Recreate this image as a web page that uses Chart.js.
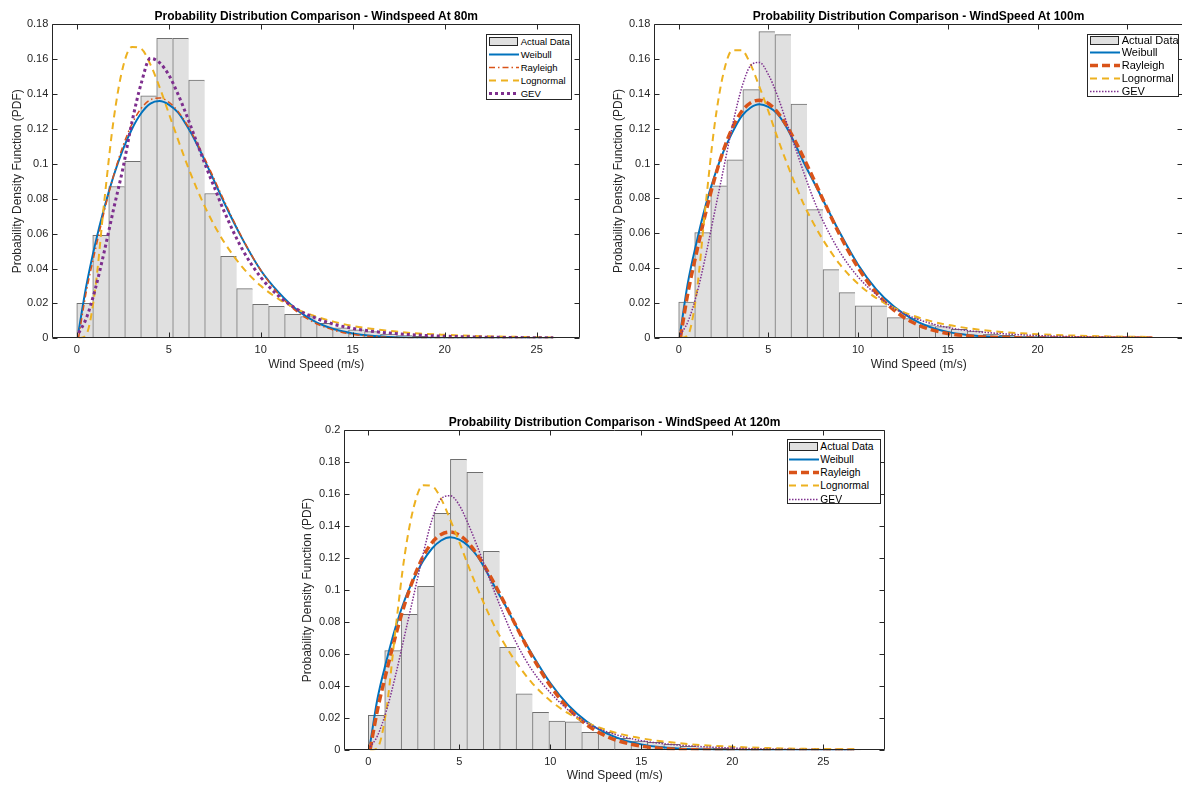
<!DOCTYPE html>
<html>
<head>
<meta charset="utf-8">
<script src="https://cdn.jsdelivr.net/npm/chart.js@4.4.0/dist/chart.umd.min.js"></script>
<style>
  body { margin: 0; width: 1182px; height: 785px; overflow: hidden; background: #fff; position: relative;
         font-family: "Liberation Sans", Arial, sans-serif; }
  .panel { position: absolute; }
  .title { position: absolute; font-weight: bold; font-size: 12px; white-space: nowrap; color: #000;
           transform: translate(-50%, -50%); }
  .legend { position: absolute; background: #fff; border: 1px solid #262626; box-sizing: border-box; color: #000; }
  .legend .row { position: absolute; left: 0; right: 0; height: 13px; }
  .legend .row span { position: absolute; top: 0; line-height: 13px; white-space: nowrap; }
  .legend .row svg { position: absolute; top: 0; }
</style>
</head>
<body>
<script>
// ticks
const xTicks = [0, 5, 10, 15, 20, 25];
const yTicks18 = [0, 0.02, 0.04, 0.06, 0.08, 0.1, 0.12, 0.14, 0.16, 0.18];
const yTicks20 = [0, 0.02, 0.04, 0.06, 0.08, 0.1, 0.12, 0.14, 0.16, 0.18, 0.2];
const seriesNames = ["Actual Data", "Weibull", "Rayleigh", "Lognormal", "GEV"];
const titles = [
  "Probability Distribution Comparison - Windspeed At 80m",
  "Probability Distribution Comparison - WindSpeed At 100m",
  "Probability Distribution Comparison - WindSpeed At 120m"
];

// 80m histogram (bin centres, density)
const bins80 = [0.435, 1.304, 2.173, 3.042, 3.911, 4.780, 5.649, 6.518, 7.387, 8.256, 9.125, 9.994, 10.863, 11.732, 12.601,
  13.470, 14.339, 15.208, 16.077, 16.946, 17.815, 18.684, 19.553, 20.422, 21.291, 22.160, 23.029, 23.898, 24.767, 25.636];
const hist80 = [0.020, 0.059, 0.087, 0.1015, 0.139, 0.172, 0.172, 0.148, 0.083, 0.047, 0.0285, 0.0195, 0.0183, 0.0138, 0.0125,
  0.0086, 0.0060, 0.0048, 0.0038, 0.0024, 0.0016, 0.0011, 0.0008, 0.0006, 0.0004, 0.0003, 0.0002, 0.0002, 0.0001, 0.0001];

// 100m histogram
const bins100 = [0.447, 1.341, 2.235, 3.129, 4.023, 4.917, 5.811, 6.705, 7.599, 8.493, 9.387, 10.281, 11.175, 12.069, 12.963,
  13.857, 14.751, 15.645, 16.539, 17.433, 18.327, 19.221, 20.115, 21.009, 21.903, 22.797, 23.691, 24.585, 25.479, 26.373];
const hist100 = [0.0206, 0.0604, 0.0873, 0.1022, 0.1424, 0.1756, 0.1739, 0.1341, 0.0736, 0.0392, 0.026, 0.0185, 0.0185, 0.0117, 0.0112,
  0.0075, 0.0065, 0.0050, 0.0040, 0.0022, 0.0015, 0.0011, 0.0008, 0.0006, 0.0004, 0.0003, 0.0002, 0.0002, 0.0001, 0.0001];

// 120m histogram
const bins120 = [0.451, 1.353, 2.255, 3.157, 4.059, 4.961, 5.863, 6.765, 7.667, 8.569, 9.471, 10.373, 11.275, 12.177, 13.079,
  13.981, 14.883, 15.785, 16.687, 17.589, 18.491, 19.393, 20.295, 21.197, 22.099, 23.001, 23.903, 24.805, 25.707, 26.609];
const hist120 = [0.0219, 0.0622, 0.0849, 0.1024, 0.148, 0.1817, 0.1736, 0.1242, 0.0643, 0.0352, 0.0237, 0.0183, 0.0177, 0.0112, 0.0112,
  0.0075, 0.0058, 0.0050, 0.0037, 0.0025, 0.0016, 0.0012, 0.0008, 0.0006, 0.0004, 0.0003, 0.0002, 0.0002, 0.0001, 0.0001];

// fitted curves, sampled along wind speed
const speed80 = [0.1, 0.5, 1, 1.5, 2, 2.5, 3, 3.5, 4, 4.5, 5, 5.5, 6, 6.5, 7, 7.5, 8, 9, 10, 11, 12, 13, 14, 15, 16, 17, 18, 20, 22, 24, 25.9];
const weibull80 = [0.004, 0.029, 0.054, 0.075, 0.093, 0.108, 0.120, 0.129, 0.1345, 0.136, 0.134, 0.1295, 0.1215, 0.112, 0.101, 0.0895,
  0.078, 0.057, 0.039, 0.026, 0.016, 0.0093, 0.0052, 0.0028, 0.0014, 0.0007, 0.0003, 0.0001, 0, 0, 0];
const rayleigh80 = [0.0005, 0.0257, 0.0503, 0.0731, 0.0932, 0.1099, 0.1228, 0.1318, 0.1367, 0.1378, 0.1354, 0.1301, 0.1223, 0.1127, 0.102,
  0.0906, 0.0791, 0.0574, 0.039, 0.025, 0.015, 0.0085, 0.0046, 0.0023, 0.0011, 0.0005, 0.0002, 0, 0, 0, 0];
const lognormal80 = [0, 0.0018, 0.028, 0.079, 0.125, 0.155, 0.167, 0.166, 0.157, 0.144, 0.129, 0.114, 0.0995, 0.0864, 0.0746, 0.0643,
  0.0553, 0.0408, 0.0301, 0.0223, 0.0166, 0.0125, 0.0094, 0.0071, 0.0055, 0.0043, 0.0032, 0.002, 0.0012, 0.0008, 0.0005];
const gev80 = [0.003, 0.011, 0.028, 0.050, 0.074, 0.097, 0.124, 0.146, 0.1605, 0.158, 0.151, 0.140, 0.127, 0.113, 0.099, 0.086,
  0.073, 0.051, 0.035, 0.024, 0.0165, 0.0115, 0.008, 0.0057, 0.0041, 0.003, 0.0022, 0.0012, 0.0007, 0.0004, 0.0003];

const speed100 = [0.1, 0.5, 1, 1.5, 2, 2.5, 3, 3.5, 4, 4.5, 5, 5.5, 6, 6.5, 7, 7.5, 8, 9, 10, 11, 12, 13, 14, 15, 16, 17, 18, 20, 22, 24, 26.4];
const weibull100 = [0.004, 0.031, 0.055, 0.076, 0.093, 0.107, 0.118, 0.127, 0.132, 0.134, 0.1325, 0.1285, 0.121, 0.111, 0.100, 0.090,
  0.080, 0.060, 0.042, 0.028, 0.018, 0.011, 0.0063, 0.0035, 0.0019, 0.001, 0.0005, 0.0001, 0, 0, 0];
const rayleigh100 = [0.0005, 0.0251, 0.0492, 0.0716, 0.0913, 0.1078, 0.1207, 0.1297, 0.1348, 0.1363, 0.1344, 0.1295, 0.122, 0.1128, 0.1025,
  0.0916, 0.0803, 0.0587, 0.0403, 0.0261, 0.016, 0.0092, 0.005, 0.0026, 0.0013, 0.0006, 0.0003, 0, 0, 0, 0];
const lognormal100 = [0, 0.0015, 0.026, 0.076, 0.122, 0.152, 0.165, 0.165, 0.157, 0.144, 0.130, 0.115, 0.101, 0.088, 0.076, 0.066,
  0.057, 0.042, 0.031, 0.023, 0.0172, 0.013, 0.0098, 0.0075, 0.0058, 0.0045, 0.0035, 0.0022, 0.0014, 0.0009, 0.0006];
const gev100 = [0.002, 0.009, 0.025, 0.047, 0.072, 0.097, 0.122, 0.143, 0.156, 0.158, 0.151, 0.139, 0.124, 0.109, 0.094, 0.080,
  0.068, 0.049, 0.035, 0.025, 0.017, 0.012, 0.0085, 0.006, 0.0044, 0.0033, 0.0025, 0.0014, 0.0008, 0.0005, 0.0003];

const speed120 = [0.1, 0.5, 1, 1.5, 2, 2.5, 3, 3.5, 4, 4.5, 5, 5.5, 6, 6.5, 7, 7.5, 8, 9, 10, 11, 12, 13, 14, 15, 16, 17, 18, 20, 22, 24, 26.7];
const weibull120 = [0.004, 0.032, 0.056, 0.077, 0.094, 0.107, 0.118, 0.126, 0.131, 0.133, 0.1315, 0.1275, 0.121, 0.1115, 0.101, 0.091,
  0.080, 0.060, 0.042, 0.028, 0.018, 0.011, 0.0065, 0.0037, 0.002, 0.0011, 0.0006, 0.0002, 0, 0, 0];
const rayleigh120 = [0.0005, 0.0251, 0.0492, 0.0716, 0.0913, 0.1078, 0.1207, 0.1297, 0.1348, 0.1363, 0.1344, 0.1295, 0.122, 0.1128, 0.1025,
  0.0916, 0.0803, 0.0587, 0.0403, 0.0261, 0.016, 0.0092, 0.005, 0.0026, 0.0013, 0.0006, 0.0003, 0, 0, 0, 0];
const lognormal120 = [0, 0.0015, 0.026, 0.076, 0.122, 0.152, 0.1655, 0.165, 0.157, 0.144, 0.130, 0.115, 0.101, 0.088, 0.076, 0.066,
  0.057, 0.042, 0.031, 0.023, 0.0172, 0.013, 0.0098, 0.0075, 0.0058, 0.0045, 0.0035, 0.0022, 0.0014, 0.0009, 0.0006];
const gev120 = [0.002, 0.009, 0.025, 0.047, 0.072, 0.097, 0.122, 0.144, 0.157, 0.159, 0.153, 0.141, 0.127, 0.112, 0.097, 0.083,
  0.070, 0.050, 0.036, 0.025, 0.017, 0.012, 0.0085, 0.006, 0.0044, 0.0033, 0.0025, 0.0014, 0.0008, 0.0005, 0.0003];

const colors = { bar: "#e0e0e0", barEdge: "#707070", weibull: "#0072BD", rayleigh: "#D95319", lognormal: "#EDB120", gev: "#7E2F8E" };

// box with inward ticks on all four sides, drawn over the data like MATLAB does
const boxPlugin = {
  id: "box",
  afterDatasetsDraw(chart) {
    const { ctx, chartArea: a, scales: { x, y } } = chart;
    const L = Math.round(a.left) + 0.5, R = Math.round(a.right) - 0.5;
    const T = Math.round(a.top) + 0.5, B = Math.round(a.bottom) - 0.5;
    ctx.save();
    ctx.strokeStyle = "#262626";
    ctx.lineWidth = 1;
    ctx.beginPath();
    ctx.rect(L, T, R - L, B - T);
    x.ticks.forEach(t => {
      const px = Math.round(x.getPixelForValue(t.value)) + 0.5;
      ctx.moveTo(px, B); ctx.lineTo(px, B - 5);
      ctx.moveTo(px, T); ctx.lineTo(px, T + 5);
    });
    y.ticks.forEach(t => {
      const py = Math.round(y.getPixelForValue(t.value)) + 0.5;
      ctx.moveTo(L, py); ctx.lineTo(L + 5, py);
      ctx.moveTo(R, py); ctx.lineTo(R - 5, py);
    });
    ctx.stroke();
    ctx.restore();
  }
};

function curve(xs, ys, color, width, dash, order) {
  return {
    type: "line",
    data: xs.map((v, i) => ({ x: v, y: ys[i] })),
    borderColor: color, borderWidth: width, borderDash: dash,
    pointRadius: 0, fill: false, cubicInterpolationMode: "monotone", order: order
  };
}

function legendSample(i, st) {
  if (i === 0) {
    return `<svg width="32" height="13" style="left:${st.sx}px"><rect x="1.5" y="2.5" width="28" height="8" fill="${colors.bar}" stroke="#262626"/></svg>`;
  }
  const s = st.styles[i - 1];
  return `<svg width="32" height="13" style="left:${st.sx}px"><line x1="1" y1="6.5" x2="31" y2="6.5" stroke="${s.color}" stroke-width="${s.width}" stroke-dasharray="${s.dash.join(" ")}"/></svg>`;
}

function makePanel(p) {
  const div = document.createElement("div");
  div.className = "panel";
  div.style.left = p.left + "px";
  div.style.top = p.top + "px";
  const canvas = document.createElement("canvas");
  canvas.width = p.w; canvas.height = p.h;
  canvas.style.width = p.w + "px"; canvas.style.height = p.h + "px";
  div.appendChild(canvas);
  document.body.appendChild(div);

  const st = p.styles;
  new Chart(canvas, {
    type: "bar",
    data: {
      datasets: [
        {
          type: "bar", label: seriesNames[0],
          data: p.bins.map((b, i) => ({ x: b, y: p.hist[i] })),
          backgroundColor: colors.bar, borderColor: colors.barEdge,
          borderWidth: { top: 1, left: 1, right: 0, bottom: 0 }, borderSkipped: false,
          barPercentage: 1, categoryPercentage: 1, order: 5
        },
        curve(p.speed, p.weibull, st[0].color, st[0].width, st[0].dash, 4),
        curve(p.speed, p.rayleigh, st[1].color, st[1].width, st[1].dash, 3),
        curve(p.speed, p.lognormal, st[2].color, st[2].width, st[2].dash, 2),
        curve(p.speed, p.gev, st[3].color, st[3].width, st[3].dash, 1)
      ]
    },
    options: {
      responsive: false, animation: false, maintainAspectRatio: false,
      layout: { padding: { top: p.padTop, right: p.padRight, left: 0, bottom: 0 } },
      plugins: { legend: { display: false }, tooltip: { enabled: false }, title: { display: false } },
      scales: {
        x: {
          type: "linear", min: p.xMin, max: p.xMax, offset: false,
          grid: { display: false, drawTicks: false, offset: false }, border: { display: false },
          afterBuildTicks: s => { s.ticks = xTicks.map(v => ({ value: v })); },
          afterFit: s => { s.height = p.xAxisH; },
          ticks: { padding: 5, color: "#262626", font: { size: 11 }, autoSkip: false, maxRotation: 0 },
          title: { display: true, text: "Wind Speed (m/s)", color: "#262626", font: { size: 12 },
                   padding: { top: 0, bottom: p.xTitlePad } }
        },
        y: {
          type: "linear", min: 0, max: p.yMax,
          grid: { display: false, drawTicks: false }, border: { display: false },
          afterBuildTicks: s => { s.ticks = p.yTicks.map(v => ({ value: v })); },
          afterFit: s => { s.width = p.yAxisW; },
          ticks: { padding: 4, color: "#262626", font: { size: 11 }, callback: v => String(+v.toFixed(2)) },
          title: { display: true, text: "Probability Density Function (PDF)", color: "#262626", font: { size: 12 },
                   padding: { top: p.yTitlePad, bottom: 0 } }
        }
      }
    },
    plugins: [boxPlugin]
  });

  const t = document.createElement("div");
  t.className = "title";
  t.textContent = p.title;
  t.style.left = p.titleX + "px";
  t.style.top = p.titleY + "px";
  document.body.appendChild(t);

  const lg = document.createElement("div");
  lg.className = "legend";
  const l = p.legend;
  lg.style.left = l.x + "px"; lg.style.top = l.y + "px";
  lg.style.width = l.w + "px"; lg.style.height = l.h + "px";
  lg.style.fontSize = l.font + "px";
  lg.innerHTML = seriesNames.map((n, i) =>
    `<div class="row" style="top:${l.first + i * l.step - 6.5}px">${legendSample(i, { sx: l.sx, styles: st })}<span style="left:${l.tx}px">${n}</span></div>`
  ).join("");
  document.body.appendChild(lg);
}

const styles80 = [
  { color: colors.weibull, width: 2, dash: [] },
  { color: colors.rayleigh, width: 1.5, dash: [6, 3, 1.5, 3] },
  { color: colors.lognormal, width: 2, dash: [7, 5] },
  { color: colors.gev, width: 3, dash: [3, 3] }
];
const stylesThick = [
  { color: colors.weibull, width: 2, dash: [] },
  { color: colors.rayleigh, width: 3.5, dash: [8, 4] },
  { color: colors.lognormal, width: 2, dash: [7, 5] },
  { color: colors.gev, width: 1.5, dash: [1.5, 1.5] }
];

makePanel({
  left: 0, top: 0, w: 590, h: 380, padTop: 24.3, padRight: 9.7, yAxisW: 52.3, xAxisH: 41.7,
  xTitlePad: 7.8, yTitlePad: 10.8, xMin: -1.33, xMax: 27.37, yMax: 0.18, yTicks: yTicks18,
  bins: bins80, hist: hist80, speed: speed80, weibull: weibull80, rayleigh: rayleigh80, lognormal: lognormal80, gev: gev80,
  styles: styles80, title: titles[0], titleX: 316.3, titleY: 16,
  legend: { x: 485.7, y: 34, w: 86, h: 66, font: 9.5, first: 6.5, step: 12.9, sx: 1, tx: 34 }
});
makePanel({
  left: 592, top: 0, w: 600, h: 380, padTop: 24, padRight: 9, yAxisW: 62.3, xAxisH: 42,
  xTitlePad: 7.8, yTitlePad: 19.8, xMin: -1.36, xMax: 28.11, yMax: 0.18, yTicks: yTicks18,
  bins: bins100, hist: hist100, speed: speed100, weibull: weibull100, rayleigh: rayleigh100, lognormal: lognormal100, gev: gev100,
  styles: stylesThick, title: titles[1], titleX: 918.6, titleY: 15.7,
  legend: { x: 1087.3, y: 34.3, w: 92, h: 62.4, font: 11, first: 5, step: 12.7, sx: 1, tx: 33.4 }
});
makePanel({
  left: 290, top: 405, w: 600, h: 380, padTop: 25, padRight: 5, yAxisW: 54.3, xAxisH: 34.7,
  xTitlePad: 1.8, yTitlePad: 10.8, xMin: -1.32, xMax: 28.39, yMax: 0.2, yTicks: yTicks20,
  bins: bins120, hist: hist120, speed: speed120, weibull: weibull120, rayleigh: rayleigh120, lognormal: lognormal120, gev: gev120,
  styles: stylesThick, title: titles[2], titleX: 614.6, titleY: 421.7,
  legend: { x: 787.3, y: 439.3, w: 94, h: 64.7, font: 10.3, first: 6, step: 13.2, sx: 0, tx: 32 }
});
</script>
</body>
</html>
